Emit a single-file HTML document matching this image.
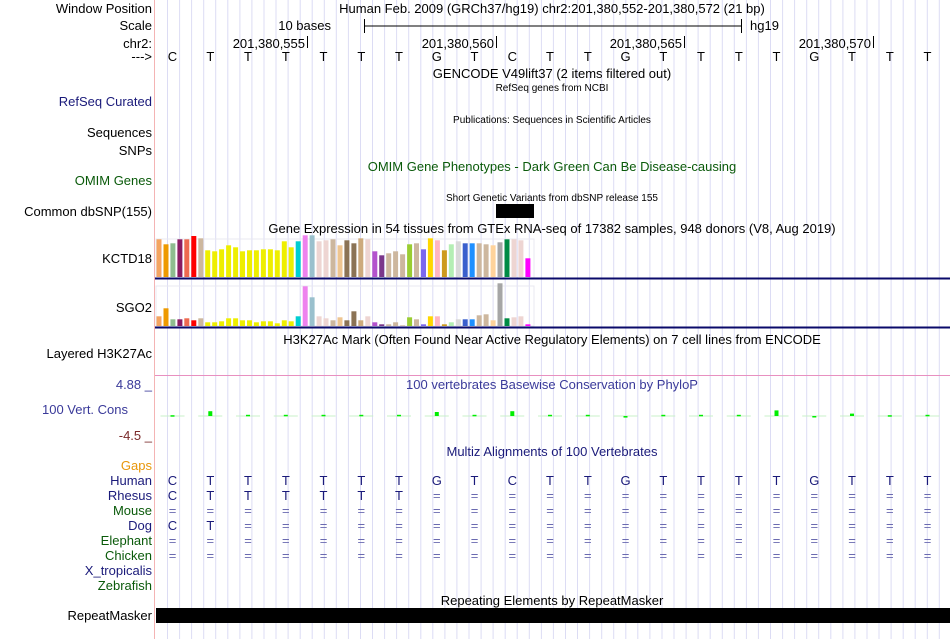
<!DOCTYPE html>
<html><head><meta charset="utf-8"><style>
body{margin:0;background:#fff;}
svg{display:block;font-family:"Liberation Sans",sans-serif;}
</style></head><body>
<svg id="c" width="950" height="639" xmlns="http://www.w3.org/2000/svg">
<g id="grid"></g>
<line x1="154.5" y1="0" x2="154.5" y2="639" stroke="#f4b4b4"/>
<g font-size="13" text-anchor="end">
<text x="152" y="13" fill="#000">Window Position</text>
<text x="152" y="30" fill="#000">Scale</text>
<text x="152" y="48" fill="#000">chr2:</text>
<text x="152" y="61" fill="#000">---&gt;</text>
<text x="152" y="106" fill="#1a1a7a">RefSeq Curated</text>
<text x="152" y="137" fill="#000">Sequences</text>
<text x="152" y="155" fill="#000">SNPs</text>
<text x="152" y="185" fill="#0a5a0a">OMIM Genes</text>
<text x="152" y="216" fill="#000">Common dbSNP(155)</text>
<text x="152" y="263" fill="#000">KCTD18</text>
<text x="152" y="312" fill="#000">SGO2</text>
<text x="152" y="358" fill="#000">Layered H3K27Ac</text>
<text x="152" y="389" fill="#3a3a9a">4.88 _</text>
<text x="128" y="414" fill="#3a3a9a">100 Vert. Cons</text>
<text x="152" y="440" fill="#7a2a2a">-4.5 _</text>
<text x="152" y="470" fill="#e8960a">Gaps</text>
<text x="152" y="485" fill="#1a1a7a">Human</text>
<text x="152" y="500" fill="#1a1a7a">Rhesus</text>
<text x="152" y="515" fill="#0a5a0a">Mouse</text>
<text x="152" y="530" fill="#1a1a7a">Dog</text>
<text x="152" y="545" fill="#0a5a0a">Elephant</text>
<text x="152" y="560" fill="#0a5a0a">Chicken</text>
<text x="152" y="575" fill="#1a1a7a">X_tropicalis</text>
<text x="152" y="590" fill="#0a5a0a">Zebrafish</text>
<text x="152" y="620" fill="#000">RepeatMasker</text>
</g>
<g font-size="13" fill="#000" text-anchor="middle">
<text x="552" y="13">Human Feb. 2009 (GRCh37/hg19)   chr2:201,380,552-201,380,572 (21 bp)</text>
<text x="331" y="30" text-anchor="end">10 bases</text>
<line x1="364.5" y1="26" x2="741.5" y2="26" stroke="#000"/>
<line x1="364.5" y1="19" x2="364.5" y2="33" stroke="#000"/>
<line x1="741.5" y1="19" x2="741.5" y2="33" stroke="#000"/>
<text x="750" y="30" text-anchor="start">hg19</text>
<text x="305" y="48" text-anchor="end">201,380,555</text><line x1="307.5" y1="36" x2="307.5" y2="48" stroke="#000"/>
<text x="494" y="48" text-anchor="end">201,380,560</text><line x1="496.5" y1="36" x2="496.5" y2="48" stroke="#000"/>
<text x="682" y="48" text-anchor="end">201,380,565</text><line x1="684.5" y1="36" x2="684.5" y2="48" stroke="#000"/>
<text x="871" y="48" text-anchor="end">201,380,570</text><line x1="873.5" y1="36" x2="873.5" y2="48" stroke="#000"/>
<text x="552" y="78">GENCODE V49lift37 (2 items filtered out)</text>
<text x="552" y="91" font-size="10">RefSeq genes from NCBI</text>
<text x="552" y="123" font-size="10">Publications: Sequences in Scientific Articles</text>
<text x="552" y="171" fill="#0a5a0a">OMIM Gene Phenotypes - Dark Green Can Be Disease-causing</text>
<text x="552" y="201" font-size="10">Short Genetic Variants from dbSNP release 155</text>
<text x="552" y="233">Gene Expression in 54 tissues from GTEx RNA-seq of 17382 samples, 948 donors (V8, Aug 2019)</text>
<text x="552" y="344">H3K27Ac Mark (Often Found Near Active Regulatory Elements) on 7 cell lines from ENCODE</text>
<text x="552" y="389" fill="#3a3a9a">100 vertebrates Basewise Conservation by PhyloP</text>
<text x="552" y="456" fill="#1a1a7a">Multiz Alignments of 100 Vertebrates</text>
<text x="552" y="605">Repeating Elements by RepeatMasker</text>
</g>
<rect x="496" y="204" width="38" height="14" fill="#000"/>
<rect x="156" y="239" width="378" height="40" fill="none" stroke="#e8e8f0"/>
<rect x="156" y="286" width="378" height="40" fill="none" stroke="#e8e8f0"/>
<g id="bars"></g>
<line x1="155" y1="278.5" x2="950" y2="278.5" stroke="#0a0a6a" stroke-width="2"/>
<line x1="155" y1="327.5" x2="950" y2="327.5" stroke="#0a0a6a" stroke-width="2"/>
<line x1="155" y1="375.5" x2="950" y2="375.5" stroke="#e890c0"/>
<g id="cons"></g>
<g id="seq" font-size="13" text-anchor="middle"></g>
<rect x="156" y="608" width="794" height="15" fill="#000"/>
</svg>
<script>
const tissueColors=["#f4a460","#ee9a00","#8fbc8f","#8b1c62","#ee6a50","#ff0000","#cdb79e","#eeee00","#eeee00","#eeee00","#eeee00","#eeee00","#eeee00","#eeee00","#eeee00","#eeee00","#eeee00","#eeee00","#eeee00","#eeee00","#00ced1","#ee82ee","#9ac0cd","#eed5d2","#eed5d2","#cdb79e","#eec591","#8b7355","#8b7355","#cdaa7d","#eed5d2","#b452cd","#7a378b","#cdb79e","#cdb79e","#cdb79e","#9acd32","#cdb79e","#7b68ee","#ffd700","#ffb6c1","#cd9b1d","#b4eeb4","#d9d9d9","#3a5fcd","#1e90ff","#cdb79e","#cdb79e","#ffd39b","#a6a6a6","#008b45","#eed5d2","#eed5d2","#ff00ff"];
const kctd18Values=[37.7,32.7,33.7,37.7,37.7,41,38.7,26.7,25.7,27.7,31.7,29.7,25.7,26.7,26.7,27.7,27.7,26.7,35.7,29.7,35.7,41.7,41.7,35.7,36.7,37.7,31.7,36.7,33.7,38.7,37.7,25.7,21.7,23.7,25.7,22.7,32.7,33.7,27.7,38.7,36.7,26.7,32.7,35.7,33.7,33.7,33.7,32.7,31.7,34.7,37.7,37.7,36.7,18.7];
const sgo2Values=[9.7,17.7,6.7,6.7,7.7,5.7,7.7,3.7,3.7,4.7,7.7,7.7,5.7,5.7,3.7,4.7,4.7,2.7,5.7,4.7,9.7,39.7,28.7,9.7,7.7,5.7,8.7,5.7,14.7,5.7,9.7,3.7,1.7,1.7,3.7,0.7,8.7,6.7,1.7,9.7,9.7,1.7,3.7,6.7,6.7,6.7,10.7,11.7,5.7,42.7,7.7,8.7,9.7,1.7];
const bases=["C","T","T","T","T","T","T","G","T","C","T","T","G","T","T","T","T","G","T","T","T"];
const rhesusBases=["C","T","T","T","T","T","T"];
const dogBases=["C","T"];
const phylopScores=[0.2,1.2,0.3,0.3,0.3,0.3,0.3,1.0,0.3,1.2,0.3,0.3,-0.4,0.3,0.3,0.3,1.4,0.0,0.6,0.2,0.3];
const NS="http://www.w3.org/2000/svg";
function mk(t,a,p){const e=document.createElementNS(NS,t);for(const k in a)e.setAttribute(k,a[k]);p.appendChild(e);return e;}
const grid=document.getElementById('grid');
for(let x=167.5;x<950;x+=12.06){
 const l=mk('line',{x1:x.toFixed(1),y1:0,x2:x.toFixed(1),y2:639,stroke:'#dcdcf4'},grid);
 
 
}
const barX=i=>156.5+i*6.96;
const bars=document.getElementById('bars');
const kBase=277,sBase=326,pxPerUnit=1;
kctd18Values.forEach((v,i)=>{
 const r=mk('rect',{x:barX(i).toFixed(1),y:(kBase-v*pxPerUnit).toFixed(1),width:5,height:(v*pxPerUnit).toFixed(1),fill:tissueColors[i]},bars);
 
 
});
sgo2Values.forEach((v,i)=>{
 const r=mk('rect',{x:barX(i).toFixed(1),y:(sBase-v*pxPerUnit).toFixed(1),width:5,height:(v*pxPerUnit).toFixed(1),fill:tissueColors[i]},bars);
 
 
});
const baseX=i=>172.5+i*37.75;
const seq=document.getElementById('seq');
function row(arr,y,fill,full){
 for(let i=0;i<21;i++){
  const ch=i<arr.length?arr[i]:(full?null:'=');
  if(!ch)continue;
  const t=mk('text',{x:baseX(i).toFixed(1),y:y,fill:ch==='='?'#6a6ab0':fill},seq);t.textContent=ch;
  
  
 }
}
bases.forEach((b,i)=>{const t=mk('text',{x:baseX(i).toFixed(1),y:61,fill:'#000'},seq);t.textContent=b;
 
 });
row(bases,485,'#1a1a7a',true);
row(rhesusBases,500,'#1a1a7a',false);
row([],515,'#6a6ab0',false);
row(dogBases,530,'#1a1a7a',false);
row([],545,'#6a6ab0',false);
row([],560,'#6a6ab0',false);
const cons=document.getElementById('cons');
const zeroY=416,pxPerScore=4;
phylopScores.forEach((s,i)=>{
 const x=baseX(i);
 const h=Math.abs(s)*pxPerScore;
 const y=s>=0?zeroY-h:zeroY;
 const l=mk('line',{x1:x-12,y1:zeroY,x2:x+12,y2:zeroY,stroke:'#c8f0c8'},cons);
 
 
 const r=mk('rect',{x:(x-2).toFixed(1),y:y.toFixed(1),width:4,height:Math.max(h,1.5).toFixed(1),fill:'#00ee00'},cons);
 
 
});
</script>
</body></html>
